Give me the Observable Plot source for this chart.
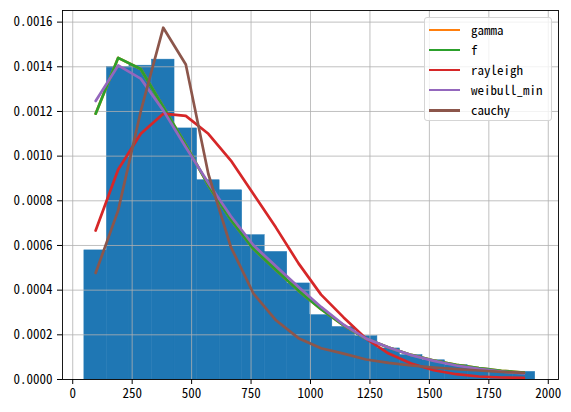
<!DOCTYPE html>
<html><head><meta charset="utf-8">
<script src="https://cdn.jsdelivr.net/npm/d3@7"></script>
<script src="https://cdn.jsdelivr.net/npm/@observablehq/plot@0.6"></script>
<style>
body{margin:0;background:#fff;}
#wrap{position:relative;width:571px;height:412px;font-family:"Noto Sans Mono CJK JP","Noto Sans CJK JP",monospace;}
#legend{position:absolute;left:424px;top:17px;width:126px;height:102px;border:1px solid #d5d5d5;border-radius:3px;background:rgba(255,255,255,0.8);}
.row{position:absolute;left:0;height:20px;}
.sw{position:absolute;left:4px;width:31px;height:2.7px;}
.lb{position:absolute;left:46px;font-size:13px;line-height:13px;color:#000;white-space:nowrap;}
</style></head><body><div id="wrap"></div><script>
// histogram bins (density)
const binLeft  = [49, 143.8, 238.6, 333.4, 428.2, 523, 617.8, 712.6, 807.4, 902.2, 997, 1091.8, 1186.6, 1281.4, 1376.2, 1471, 1565.8, 1660.6, 1755.4, 1850.2];
const binRight = [143.8, 238.6, 333.4, 428.2, 523, 617.8, 712.6, 807.4, 902.2, 997, 1091.8, 1186.6, 1281.4, 1376.2, 1471, 1565.8, 1660.6, 1755.4, 1850.2, 1945];
const histDensity = [0.000578, 0.001400, 0.001405, 0.001432, 0.001124, 0.000892, 0.000847, 0.000646, 0.000571, 0.000430, 0.000288, 0.000235, 0.000194, 0.000139, 0.000109, 0.000086, 0.000064, 0.000049, 0.000036, 0.000034];
// fitted pdf curves evaluated at bin centres
const binCenters = [96.4, 191.2, 286, 380.8, 475.6, 570.4, 665.2, 760, 854.8, 949.6, 1044.4, 1139.2, 1234, 1328.8, 1423.6, 1518.4, 1613.2, 1708, 1802.8, 1897.6];
const gammaPdf    = [0.00119, 0.00144, 0.00139, 0.00122, 0.00105, 0.00087, 0.000715, 0.000585, 0.00049, 0.000398, 0.000315, 0.000242, 0.000182, 0.000143, 0.00011, 0.000085, 0.000066, 0.000051, 0.000039, 0.000031];
const fPdf        = [0.00119, 0.00144, 0.00139, 0.00122, 0.00105, 0.00087, 0.000715, 0.000585, 0.00049, 0.000398, 0.000315, 0.000242, 0.000182, 0.000143, 0.00011, 0.000085, 0.000066, 0.000051, 0.000039, 0.000031];
const rayleighPdf = [0.000667, 0.00094, 0.0011, 0.00119, 0.00118, 0.0011, 0.00098, 0.00083, 0.00068, 0.00052, 0.00038, 0.000278, 0.000183, 0.000116, 0.0000716, 0.0000416, 0.0000237, 0.0000134, 0.000009, 0.000007];
const weibullPdf  = [0.001247, 0.001406, 0.001347, 0.001205, 0.00104, 0.00088, 0.000731, 0.000601, 0.000507, 0.000414, 0.000325, 0.000245, 0.000183, 0.000143, 0.000109, 0.0000832, 0.0000626, 0.0000474, 0.0000358, 0.0000268];
const cauchyPdf   = [0.000477, 0.000757, 0.0012, 0.001575, 0.00141, 0.00092, 0.000593, 0.000385, 0.000265, 0.000185, 0.00014, 0.000116, 0.0000895, 0.0000743, 0.0000626, 0.0000537, 0.0000461, 0.0000403, 0.000034, 0.0000295];
const seriesNames  = ["gamma", "f", "rayleigh", "weibull_min", "cauchy"];
const seriesColors = ["#ff7f0e", "#2ca02c", "#d62728", "#9467bd", "#8c564b"];
const seriesValues = [gammaPdf, fPdf, rayleighPdf, weibullPdf, cauchyPdf];
const xTicks = [0, 250, 500, 750, 1000, 1250, 1500, 1750, 2000];
const yTicks = [0, 0.0002, 0.0004, 0.0006, 0.0008, 0.0010, 0.0012, 0.0014, 0.0016];

const bars = binLeft.map((l, i) => ({x1: l, x2: binRight[i], y: histDensity[i]}));
const curves = [];
seriesNames.forEach((name, s) => binCenters.forEach((x, i) => curves.push({name, x, y: seriesValues[s][i]})));

const font = '"Noto Sans Mono CJK JP","Noto Sans CJK JP",monospace';
const chart = Plot.plot({
  width: 571, height: 412,
  marginLeft: 62, marginRight: 13, marginTop: 10, marginBottom: 33,
  style: {fontFamily: font, fontSize: "13px", color: "#000", background: "#fff"},
  x: {domain: [-43, 2043]},
  y: {domain: [0, 0.001652]},
  color: {domain: seriesNames, range: seriesColors},
  marks: [
    Plot.rectY(bars, {x1: "x1", x2: "x2", y: "y", fill: "#1f77b4", stroke: "#1f77b4", strokeWidth: 0.5, inset: 0}),
    Plot.gridX(xTicks, {stroke: "#b0b0b0", strokeOpacity: 1, strokeWidth: 0.8}),
    Plot.gridY(yTicks, {stroke: "#b0b0b0", strokeOpacity: 1, strokeWidth: 0.8}),
    Plot.line(curves, {x: "x", y: "y", z: "name", stroke: "name", strokeWidth: 2.7}),
    Plot.frame({stroke: "#000", strokeWidth: 0.9}),
    Plot.axisX({ticks: xTicks, tickFormat: d3.format("d"), tickSize: 5, tickPadding: 4, label: null, fontSize: 13, stroke: "#000"}),
    Plot.axisY({ticks: yTicks, tickFormat: d3.format(".4f"), tickSize: 5, tickPadding: 5, label: null, fontSize: 13, stroke: "#000"})
  ]
});
const wrap = document.getElementById("wrap");
wrap.appendChild(chart);
const lg = document.createElement("div");
lg.id = "legend";
seriesNames.forEach((n, i) => {
  const r = document.createElement("div");
  r.className = "row";
  r.style.top = (1 + i * 20.1) + "px";
  r.style.width = "100%";
  const sw = document.createElement("div");
  sw.className = "sw"; sw.style.background = seriesColors[i]; sw.style.top = "9.5px";
  const lb = document.createElement("div");
  lb.className = "lb"; lb.textContent = n; lb.style.top = "4px";
  r.appendChild(sw); r.appendChild(lb); lg.appendChild(r);
});
wrap.appendChild(lg);
</script></body></html>
